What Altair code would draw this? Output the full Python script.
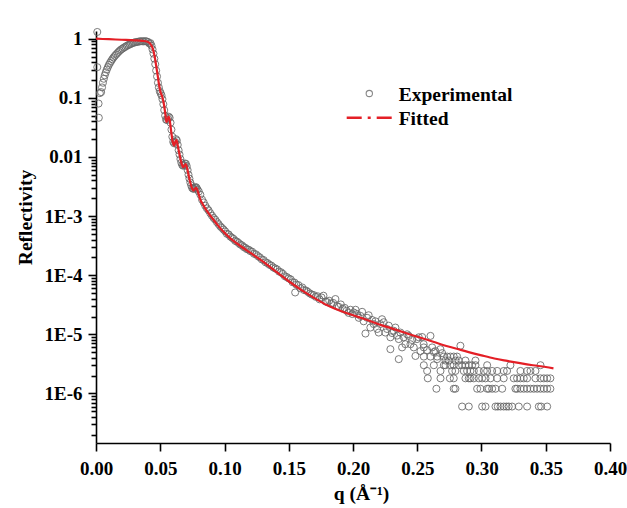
import altair as alt
import pandas as pd

# ---------------- data ----------------
# experimental points: spike near q = 0
q_exp_edge = [0.0010, 0.0010, 0.0020, 0.0022, 0.0030]
r_exp_edge = [1.30, 0.33, 0.080, 0.046, 0.12]

# total-reflection arc
q_exp_arc = [0.0040, 0.0047, 0.0054, 0.0061, 0.0068, 0.0076, 0.0084, 0.0092, 0.0100, 0.0109,
             0.0118, 0.0127, 0.0136, 0.0146, 0.0156, 0.0166, 0.0176, 0.0186, 0.0196, 0.0207,
             0.0218, 0.0229, 0.0240, 0.0251, 0.0262, 0.0273, 0.0284, 0.0295, 0.0306, 0.0317,
             0.0328, 0.0339, 0.0350, 0.0361, 0.0372, 0.0383, 0.0394, 0.0405, 0.0415]
r_exp_arc = [0.125, 0.15, 0.18, 0.21, 0.24, 0.27, 0.30, 0.33, 0.36, 0.39,
             0.42, 0.45, 0.48, 0.51, 0.54, 0.57, 0.60, 0.63, 0.66, 0.68,
             0.71, 0.73, 0.76, 0.78, 0.80, 0.82, 0.84, 0.86, 0.87, 0.88,
             0.89, 0.90, 0.905, 0.905, 0.90, 0.91, 0.90, 0.88, 0.83]

# critical edge and Kiessig fringes
q_exp_fringe = [0.0424, 0.0432, 0.0440, 0.0447, 0.0454, 0.0461, 0.0468, 0.0475, 0.0482, 0.0489,
                0.0496, 0.0503, 0.0510, 0.0517, 0.0524, 0.0531, 0.0538, 0.0545, 0.0552, 0.0559,
                0.0566, 0.0573, 0.0580, 0.0587, 0.0594, 0.0601, 0.0608, 0.0615, 0.0622, 0.0629,
                0.0636, 0.0643, 0.0650, 0.0657, 0.0664, 0.0671, 0.0678, 0.0685, 0.0692, 0.0699,
                0.0706, 0.0713, 0.0720, 0.0727, 0.0734, 0.0741, 0.0748, 0.0755, 0.0762, 0.0769,
                0.0776, 0.0783, 0.0790]
r_exp_fringe = [0.84, 0.76, 0.66, 0.56, 0.46, 0.37, 0.29, 0.23, 0.18, 0.15,
                0.13, 0.12, 0.11, 0.095, 0.078, 0.062, 0.050, 0.043, 0.042, 0.045,
                0.048, 0.046, 0.038, 0.029, 0.022, 0.018, 0.017, 0.018, 0.020, 0.019,
                0.016, 0.013, 0.011, 0.0092, 0.0080, 0.0073, 0.0071, 0.0073, 0.0077, 0.0077,
                0.0070, 0.0060, 0.0050, 0.0043, 0.0037, 0.0033, 0.0030, 0.0029, 0.0029, 0.0030,
                0.0031, 0.0030, 0.0028]

# smooth decay
q_exp_decay = [0.0800, 0.0812, 0.0825, 0.0838, 0.0850, 0.0863, 0.0876, 0.0889, 0.0902, 0.0915,
               0.0928, 0.0941, 0.0954, 0.0967, 0.0980, 0.0993, 0.1006, 0.1019, 0.1032, 0.1045,
               0.1058, 0.1071, 0.1084, 0.1097, 0.1110, 0.1123, 0.1136, 0.1149, 0.1162, 0.1175,
               0.1188, 0.1201, 0.1215, 0.1230, 0.1245, 0.1260, 0.1275, 0.1290, 0.1305, 0.1320,
               0.1335, 0.1350, 0.1365, 0.1380, 0.1395, 0.1410, 0.1425, 0.1440, 0.1455, 0.1470,
               0.1485, 0.1500, 0.1515, 0.1530, 0.1545, 0.1550, 0.1560, 0.1575, 0.1590, 0.1605,
               0.1620, 0.1635, 0.1650, 0.1665, 0.1680, 0.1695, 0.1710, 0.1725, 0.1740, 0.1755,
               0.1770, 0.1785, 0.1800, 0.1815, 0.1830, 0.1845, 0.1863, 0.1876, 0.1890, 0.1905,
               0.1920, 0.1935, 0.1950, 0.1966, 0.1980, 0.1995]
r_exp_decay = [2.6e-3, 2.3e-3, 1.9e-3, 1.7e-3, 1.5e-3, 1.35e-3, 1.25e-3, 1.12e-3, 1.02e-3, 9.3e-4,
               8.7e-4, 7.9e-4, 7.3e-4, 6.7e-4, 6.3e-4, 5.9e-4, 5.5e-4, 5.0e-4, 4.9e-4, 4.5e-4,
               4.3e-4, 4.1e-4, 3.8e-4, 3.7e-4, 3.5e-4, 3.3e-4, 3.2e-4, 3.0e-4, 2.9e-4, 2.75e-4,
               2.7e-4, 2.55e-4, 2.5e-4, 2.3e-4, 2.25e-4, 2.1e-4, 2.0e-4, 1.85e-4, 1.8e-4, 1.65e-4,
               1.6e-4, 1.5e-4, 1.45e-4, 1.35e-4, 1.3e-4, 1.25e-4, 1.15e-4, 1.12e-4, 1.05e-4, 9.6e-5,
               9.3e-5, 8.8e-5, 8.5e-5, 7.6e-5, 7.5e-5, 5.1e-5, 6.9e-5, 6.8e-5, 6.0e-5, 6.2e-5,
               5.6e-5, 5.5e-5, 5.2e-5, 4.9e-5, 4.7e-5, 4.6e-5, 4.3e-5, 4.4e-5, 3.9e-5, 4.2e-5,
               4.5e-5, 3.6e-5, 3.5e-5, 3.7e-5, 3.3e-5, 3.4e-5, 3.95e-5, 3.0e-5, 2.9e-5, 3.2e-5,
               2.7e-5, 2.8e-5, 2.5e-5, 2.3e-5, 2.6e-5, 2.2e-5]

# scattered region
q_exp_scatter = [0.2006, 0.2020, 0.2032, 0.2045, 0.2058, 0.2071, 0.2083, 0.2097, 0.2110, 0.2122,
                 0.2135, 0.2148, 0.2161, 0.2174, 0.2188, 0.2200, 0.2213, 0.2226, 0.2239, 0.2252,
                 0.2265, 0.2278, 0.2291, 0.2291, 0.2304, 0.2317, 0.2330, 0.2343, 0.2356, 0.2356,
                 0.2369, 0.2382, 0.2395, 0.2408, 0.2421, 0.2434, 0.2447, 0.2460, 0.2473, 0.2486,
                 0.2499, 0.2512, 0.2525, 0.2538, 0.2550, 0.2551, 0.2577, 0.2603, 0.2616, 0.2629,
                 0.2641, 0.2655, 0.2680, 0.2694, 0.2720, 0.2745, 0.2797, 0.2823, 0.2836, 0.2875,
                 0.2953]
r_exp_scatter = [2.34e-5, 2.6e-5, 2.2e-5, 1.9e-5, 2.05e-5, 2.4e-5, 1.66e-5, 1.03e-5, 1.9e-5, 2.1e-5,
                 1.3e-5, 1.75e-5, 1.49e-5, 1.66e-5, 1.23e-5, 1.07e-5, 1.49e-5, 1.8e-5, 1.6e-5, 1.07e-5,
                 1.23e-5, 1.4e-5, 8.9e-6, 5.6e-6, 1.05e-5, 1.15e-5, 1.3e-5, 9.5e-6, 8.3e-6, 3.8e-6,
                 1.07e-5, 6.0e-6, 8.9e-6, 6.8e-6, 1.0e-5, 9.4e-6, 6.8e-6, 8.0e-6, 6.0e-6, 4.3e-6,
                 8.3e-6, 8.9e-6, 5.2e-6, 9.0e-6, 6.8e-6, 6.0e-6, 5.4e-6, 9.4e-6, 6.0e-6, 5.0e-6,
                 5.2e-6, 3.8e-6, 5.6e-6, 4.8e-6, 3.6e-6, 3.6e-6, 3.6e-6, 3.6e-6, 6.4e-6, 3.6e-6,
                 3.6e-6]

# count-limited levels at high q
q_level7 = [0.2551, 0.2603, 0.2655, 0.2707, 0.2733, 0.2758, 0.2784, 0.2810]
q_level5 = [0.2551, 0.2629, 0.2707, 0.2720, 0.2758, 0.2784, 0.2823, 0.2849, 0.2875, 0.2901,
            0.2927, 0.2953, 0.3044, 0.3225, 0.3459]
q_level4 = [0.2577, 0.2681, 0.2771, 0.2797, 0.2862, 0.2888, 0.2914, 0.2940, 0.2979, 0.3018,
            0.3044, 0.3083, 0.3122, 0.3173, 0.3199, 0.3303, 0.3355, 0.3381, 0.3420]
q_level3 = [0.2582, 0.2681, 0.2754, 0.2784, 0.2875, 0.2901, 0.2914, 0.2940, 0.2979, 0.3005,
            0.3031, 0.3070, 0.3122, 0.3173, 0.3251, 0.3277, 0.3303, 0.3329, 0.3355, 0.3420,
            0.3459, 0.3485, 0.3511, 0.3536]
q_level2 = [0.2649, 0.2784, 0.2797, 0.2966, 0.2992, 0.3044, 0.3057, 0.3083, 0.3109, 0.3161,
            0.3264, 0.3277, 0.3303, 0.3329, 0.3355, 0.3381, 0.3407, 0.3433, 0.3459, 0.3485,
            0.3511, 0.3536]
q_level1 = [0.2849, 0.2901, 0.3005, 0.3031, 0.3109, 0.3127, 0.3148, 0.3173, 0.3194, 0.3212,
            0.3238, 0.3290, 0.3355, 0.3446, 0.3464, 0.3511]
level_values = {"level7": 4.2e-6, "level5": 3.0e-6, "level4": 2.4e-6,
                "level3": 1.8e-6, "level2": 1.2e-6, "level1": 6.0e-7}

# fitted curve
q_fit = [0.000, 0.010, 0.020, 0.030, 0.036, 0.040, 0.042, 0.044, 0.0455, 0.047,
         0.048, 0.049, 0.050, 0.0515, 0.053, 0.054, 0.0548, 0.0557, 0.0566, 0.0575,
         0.0585, 0.0597, 0.0608, 0.0617, 0.0626, 0.0640, 0.0655, 0.0668, 0.0678, 0.0688,
         0.0698, 0.0712, 0.0726, 0.0740, 0.0752, 0.0760, 0.0770, 0.0780, 0.0795, 0.0812,
         0.0830, 0.0850, 0.0875, 0.0900, 0.0950, 0.1000, 0.1050, 0.1100, 0.1200, 0.1300,
         0.1400, 0.1500, 0.1600, 0.1700, 0.1800, 0.1900, 0.2000, 0.2100, 0.2200, 0.2300,
         0.2400, 0.2500, 0.2600, 0.2700, 0.2800, 0.2900, 0.3000, 0.3100, 0.3200, 0.3300,
         0.3400, 0.3500, 0.3560]
r_fit = [1.00, 0.98, 0.96, 0.94, 0.92, 0.89, 0.83, 0.70, 0.52, 0.33,
         0.24, 0.17, 0.13, 0.105, 0.075, 0.052, 0.039, 0.043, 0.048, 0.040,
         0.027, 0.018, 0.0155, 0.018, 0.0195, 0.0140, 0.0098, 0.0075, 0.0067, 0.0071,
         0.0076, 0.0060, 0.0043, 0.0033, 0.0028, 0.0027, 0.0029, 0.0030, 0.0025, 0.0019,
         0.0016, 0.00135, 0.00112, 0.00095, 0.00069, 0.00052, 0.00041, 0.00034, 0.00024, 0.00017,
         0.000115, 7.9e-5, 5.6e-5, 4.1e-5, 3.1e-5, 2.5e-5, 2.1e-5, 1.78e-5, 1.48e-5, 1.26e-5,
         1.07e-5, 9.1e-6, 7.8e-6, 6.6e-6, 5.75e-6, 5.0e-6, 4.4e-6, 3.9e-6, 3.55e-6, 3.25e-6,
         3.0e-6, 2.8e-6, 2.66e-6]

# axis ticks
x_ticks = [0.0, 0.025, 0.05, 0.075, 0.10, 0.125, 0.15, 0.175, 0.20, 0.225,
           0.25, 0.275, 0.30, 0.325, 0.35, 0.375, 0.40]
y_major = [1, 0.1, 0.01, 1e-3, 1e-4, 1e-5, 1e-6]
y_minor_mult = [2, 3, 4, 5, 6, 7, 8, 9]
legend_labels = ["Experimental", "Fitted"]

# ---------------- build tables ----------------
q_all = q_exp_edge + q_exp_arc + q_exp_fringe + q_exp_decay + q_exp_scatter
r_all = r_exp_edge + r_exp_arc + r_exp_fringe + r_exp_decay + r_exp_scatter
for name, qs in [("level7", q_level7), ("level5", q_level5), ("level4", q_level4),
                 ("level3", q_level3), ("level2", q_level2), ("level1", q_level1)]:
    q_all = q_all + qs
    r_all = r_all + [level_values[name]] * len(qs)
exp_df = pd.DataFrame({"q": q_all, "R": r_all})
fit_df = pd.DataFrame({"q": q_fit, "R": r_fit})

y_ticks = list(y_major)
for m in y_minor_mult:
    for d in [1e-1, 1e-2, 1e-3, 1e-4, 1e-5, 1e-6, 1e-7]:
        y_ticks.append(m * d)

FONT = "Liberation Serif"
X_MAJOR = "abs(datum.value*20 - round(datum.value*20)) < 1e-6"
Y_MAJOR = "abs(log(datum.value)/LN10 - round(log(datum.value)/LN10)) < 1e-6"

x_scale = alt.Scale(domain=[0, 0.4], nice=False, zero=False)
y_scale = alt.Scale(type="log", domain=[1.45e-7, 1.35], nice=False)

x_axis = alt.Axis(
    values=x_ticks, title="q (Å⁻¹)",
    labelExpr=f"{X_MAJOR} ? format(datum.value, '.2f') : ''",
    tickSize={"condition": {"test": X_MAJOR, "value": 8}, "value": 5},
    labelPadding=8, labelOverlap=False, labelFlush=False,
    titleX=265, titleY=56, titleBaseline="alphabetic", titleAlign="center",
)
y_axis = alt.Axis(
    values=y_ticks, title="Reflectivity",
    labelExpr=f"{Y_MAJOR} ? (datum.value >= 0.01 ? format(datum.value, '') : '1E' + round(log(datum.value)/LN10)) : ''",
    tickSize={"condition": {"test": Y_MAJOR, "value": 8}, "value": 5},
    labelPadding=6, labelOverlap=False, labelFlush=False,
    titleX=-65, titleY=186, titleBaseline="alphabetic", titleAlign="center", titleAngle=270,
)

points = alt.Chart(exp_df).mark_point(
    shape="circle", filled=False, size=50, strokeWidth=0.9, color="#666666", opacity=0.95
).encode(
    x=alt.X("q:Q", scale=x_scale, axis=x_axis),
    y=alt.Y("R:Q", scale=y_scale, axis=y_axis),
)

line = alt.Chart(fit_df).mark_line(color="#e41f26", strokeWidth=2.2, interpolate="monotone").encode(
    x=alt.X("q:Q", scale=x_scale),
    y=alt.Y("R:Q", scale=y_scale),
)

# legend drawn by hand
leg_circle = alt.Chart(alt.Data(values=[{"t": legend_labels[0]}])).mark_point(
    shape="circle", filled=False, size=40, strokeWidth=1.1, color="#555555"
).encode(x=alt.value(273.3), y=alt.value(62.5))
leg_rule = alt.Chart(alt.Data(values=[{"t": legend_labels[1]}])).mark_rule(
    color="#e41f26", strokeWidth=2.4, strokeDash=[15, 6, 3, 6]
).encode(x=alt.value(250.7), x2=alt.value(296.7), y=alt.value(86.7))
leg_text1 = alt.Chart(alt.Data(values=[{"t": legend_labels[0]}])).mark_text(
    align="left", baseline="alphabetic", font=FONT, fontSize=19.5, fontWeight="bold", color="black"
).encode(x=alt.value(302.7), y=alt.value(69.7), text="t:N")
leg_text2 = alt.Chart(alt.Data(values=[{"t": legend_labels[1]}])).mark_text(
    align="left", baseline="alphabetic", font=FONT, fontSize=19.5, fontWeight="bold", color="black"
).encode(x=alt.value(302.7), y=alt.value(94.0), text="t:N")

chart = alt.layer(points, line, leg_circle, leg_rule, leg_text1, leg_text2).properties(
    width=514, height=412,
    padding={"left": 96, "top": 31, "right": 17, "bottom": 65},
    autosize=alt.AutoSizeParams(type="none"),
    background="white",
).configure_view(stroke=None).configure_axis(
    labelFont=FONT, labelFontSize=19, labelFontWeight="bold", labelColor="black",
    titleFont=FONT, titleFontSize=19.5, titleFontWeight="bold", titleColor="black",
    domainColor="black", domainWidth=1.6, tickColor="black", tickWidth=1.6, grid=False,
)

chart.save("out.html", embed_options={"renderer": "svg", "actions": False})
